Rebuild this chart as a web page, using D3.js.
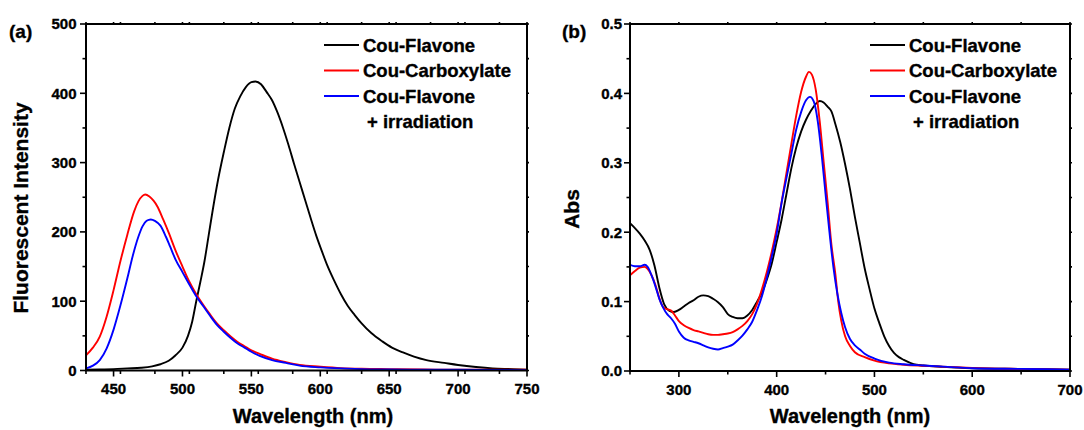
<!DOCTYPE html>
<html>
<head>
<meta charset="utf-8">
<script src="https://cdn.jsdelivr.net/npm/d3@7"></script>
<style>
  html, body { margin: 0; padding: 0; background: #fff; }
  svg { display: block; }
  text { font-family: "Liberation Sans", Arial, sans-serif; font-weight: bold; fill: #000; stroke: #000; stroke-width: 0.35px; }
</style>
</head>
<body>
<svg id="chart" width="1084" height="430"></svg>
<script>
// ---- Panel (a): fluorescence emission ----
const flWlFlavone = [430,440,450,460,470,478,484,490,495,500,504,507,510,513,516,519,522,526,530,534,538,542,546,550,553,557,561,565,569,573,577,581,585,589,593,597,601,605,610,615,620,625,630,637,645,652,660,668,677,690,700,713,725,740,750];
const flFlavone = [1,1.5,2,3,4,6,9,14,22,33,50,70,100,128,158,195,232,277,315,350,378,396,409,416,417,413,402,390,372,350,325,298,272,246,220,195,173,152,130,110,93,80,68,54,42,33,26,20,15,11,8,5,3,2,1];

const flWlCarboxylate = [430,435,440,445,450,455,460,465,468,471,473,476,479,482,486,490,495,500,505,510,515,520,525,530,535,540,545,550,556,565,575,585,600,615,630,650,675,700,750];
const flCarboxylate = [22,33,49,78,116,158,196,230,244,252,254,251,245,236,218,199,173,150,128,110,95,81,68,58,49,41,35,29,24,17,12,8,5.5,3.5,2.5,2,1.5,1,1];

const flWlIrradiated = [430,435,440,445,450,455,460,464,468,471,474,477,480,484,488,491,495,500,505,510,515,520,525,530,535,540,545,550,556,565,575,585,600,615,630,650,700,750];
const flIrradiated = [3,7,15,32,59,94,133,166,193,208,216,218,216,209,193,179,160,142,124,107,93,79,66,56,47,39,33,27,21,15,11,7,4.5,3,2,1.5,1,0.5];

const flXTicks = [450,500,550,600,650,700,750];
const flYTicks = [0,100,200,300,400,500];

// ---- Panel (b): absorption ----
const absWlFlavone = [250,255,260,265,270,275,280,285,290,295,300,305,310,315,320,325,330,335,340,345,350,355,360,365,370,375,380,385,390,395,400,405,410,415,420,425,430,435,440,444,448,452,456,460,465,470,475,480,485,490,495,500,505,510,515,520,525,530,540,550,570,600,650,700];
const absFlavone = [0.213,0.206,0.198,0.188,0.175,0.152,0.120,0.096,0.087,0.085,0.088,0.093,0.098,0.102,0.107,0.109,0.108,0.104,0.099,0.092,0.082,0.078,0.076,0.076,0.080,0.088,0.100,0.113,0.132,0.155,0.186,0.218,0.255,0.292,0.322,0.345,0.362,0.375,0.385,0.389,0.387,0.381,0.374,0.356,0.330,0.298,0.262,0.222,0.185,0.148,0.118,0.090,0.069,0.050,0.036,0.026,0.020,0.016,0.010,0.008,0.006,0.004,0.003,0.002];

const absWlCarboxylate = [250,255,260,265,268,272,276,280,284,288,292,296,300,305,310,315,320,325,330,335,340,345,350,355,360,365,370,375,380,385,390,395,400,405,410,415,420,425,430,433,436,440,444,448,452,456,460,463,466,470,475,480,490,500,515,530,550,575,600,650,700];
const absCarboxylate = [0.138,0.144,0.149,0.150,0.147,0.138,0.124,0.105,0.092,0.089,0.087,0.080,0.072,0.066,0.062,0.059,0.057,0.055,0.053,0.052,0.052,0.053,0.054,0.056,0.060,0.065,0.072,0.082,0.097,0.118,0.143,0.172,0.205,0.243,0.285,0.327,0.368,0.402,0.424,0.431,0.427,0.405,0.360,0.302,0.245,0.182,0.140,0.100,0.073,0.050,0.036,0.027,0.020,0.015,0.011,0.009,0.0075,0.006,0.0045,0.003,0.002];

const absWlIrradiated = [250,255,260,265,268,272,276,280,284,288,292,296,300,305,310,315,320,325,330,335,340,345,350,355,360,365,370,375,380,385,390,395,400,405,410,415,420,425,430,434,438,442,446,450,454,458,462,466,470,475,480,485,490,500,515,530,550,575,600,650,700];
const absIrradiated = [0.153,0.151,0.151,0.153,0.150,0.138,0.122,0.104,0.091,0.082,0.076,0.068,0.057,0.048,0.044,0.042,0.040,0.037,0.034,0.032,0.031,0.033,0.035,0.038,0.044,0.051,0.060,0.071,0.088,0.108,0.135,0.165,0.198,0.242,0.278,0.313,0.348,0.373,0.390,0.395,0.388,0.360,0.312,0.255,0.200,0.150,0.112,0.084,0.063,0.046,0.037,0.031,0.025,0.018,0.012,0.0097,0.008,0.006,0.004,0.003,0.002];

const absXTicks = [300,400,500,600,700];
const absYTicks = [0.0,0.1,0.2,0.3,0.4,0.5];

const legendLabels = ["Cou-Flavone", "Cou-Carboxylate", "Cou-Flavone"];
const legendSecondLine = "+ irradiation";
const seriesColors = ["#000000", "#ff0000", "#0000ff"];

const svg = d3.select("#chart");

function zip(xs, ys) { return xs.map((x, i) => [x, ys[i]]); }

function drawPanel(cfg) {
  const g = svg.append("g");
  const x = d3.scaleLinear().domain(cfg.xDomain).range([cfg.left, cfg.right]);
  const y = d3.scaleLinear().domain(cfg.yDomain).range([cfg.bottom, cfg.top]);

  // minor ticks sit halfway between the labelled ones
  const xMinor = d3.range(cfg.xDomain[0], cfg.xDomain[1] + 0.001, cfg.xMinorStep).filter(v => !cfg.xTicks.some(t => Math.abs(t - v) < 1e-6));
  const yMinor = d3.range(cfg.yDomain[0], cfg.yDomain[1] + 1e-9, cfg.yMinorStep).filter(v => !cfg.yTicks.some(t => Math.abs(t - v) < 1e-6));

  const tickG = g.append("g").attr("stroke", "#000").attr("stroke-width", 1.6);
  cfg.xTicks.forEach(v => tickG.append("line").attr("x1", x(v)).attr("x2", x(v)).attr("y1", cfg.bottom).attr("y2", cfg.bottom + 6));
  xMinor.forEach(v => tickG.append("line").attr("x1", x(v)).attr("x2", x(v)).attr("y1", cfg.bottom).attr("y2", cfg.bottom + 3.5));
  cfg.xTicks.concat(xMinor).forEach(v => tickG.append("line").attr("x1", x(v)).attr("x2", x(v)).attr("y1", cfg.top).attr("y2", cfg.top - 2));
  cfg.yTicks.forEach(v => tickG.append("line").attr("y1", y(v)).attr("y2", y(v)).attr("x1", cfg.left).attr("x2", cfg.left - 6));
  yMinor.forEach(v => tickG.append("line").attr("y1", y(v)).attr("y2", y(v)).attr("x1", cfg.left).attr("x2", cfg.left - 3.5));
  cfg.yTicks.concat(yMinor).forEach(v => tickG.append("line").attr("y1", y(v)).attr("y2", y(v)).attr("x1", cfg.right).attr("x2", cfg.right + 2));

  // tick labels
  g.append("g").selectAll("text").data(cfg.xTicks).join("text")
    .attr("x", d => x(d)).attr("y", cfg.bottom + 23.5)
    .attr("text-anchor", "middle").attr("font-size", 15)
    .text(d => cfg.xFormat(d));
  g.append("g").selectAll("text").data(cfg.yTicks).join("text")
    .attr("x", cfg.left - cfg.yLabelGap).attr("y", d => y(d) + 5.3)
    .attr("text-anchor", "end").attr("font-size", 15)
    .text(d => cfg.yFormat(d));

  // curves
  const line = d3.line().x(d => x(d[0])).y(d => y(d[1])).curve(d3.curveMonotoneX);
  const clipId = "clip-" + cfg.id;
  svg.append("clipPath").attr("id", clipId).append("rect")
    .attr("x", cfg.left).attr("y", cfg.top).attr("width", cfg.right - cfg.left).attr("height", cfg.bottom - cfg.top + 1);
  const curveG = g.append("g").attr("clip-path", `url(#${clipId})`);
  cfg.series.forEach((s, i) => {
    curveG.append("path").datum(zip(s.wl, s.val))
      .attr("fill", "none").attr("stroke", seriesColors[i]).attr("stroke-width", 1.9)
      .attr("stroke-linejoin", "round").attr("d", line);
  });

  // frame
  g.append("rect").attr("x", cfg.left).attr("y", cfg.top)
    .attr("width", cfg.right - cfg.left).attr("height", cfg.bottom - cfg.top)
    .attr("fill", "none").attr("stroke", "#000").attr("stroke-width", 2);

  // axis titles
  g.append("text").attr("x", cfg.xTitleX).attr("y", 423)
    .attr("text-anchor", "middle").attr("font-size", 20).text("Wavelength (nm)");
  g.append("text").attr("transform", `translate(${cfg.yTitleX},${cfg.yTitleY}) rotate(-90)`)
    .attr("text-anchor", "middle").attr("font-size", 21).text(cfg.yTitle);

  // panel letter
  g.append("text").attr("x", cfg.letterX).attr("y", 38).attr("font-size", 19).text(cfg.letter);

  // legend
  const lg = g.append("g");
  const rows = [cfg.legendY, cfg.legendY + 25.5, cfg.legendY + 51];
  legendLabels.forEach((lab, i) => {
    lg.append("line").attr("x1", cfg.legendX).attr("x2", cfg.legendX + 35)
      .attr("y1", rows[i]).attr("y2", rows[i])
      .attr("stroke", seriesColors[i]).attr("stroke-width", 2);
    lg.append("text").attr("x", cfg.legendX + 39).attr("y", rows[i] + 6.6)
      .attr("font-size", 18.5).text(lab);
  });
  lg.append("text").attr("x", cfg.legendX + 43).attr("y", rows[2] + 25.5 + 6.6)
    .attr("font-size", 18.5).text(legendSecondLine);
}

drawPanel({
  id: "a", letter: "(a)", letterX: 9,
  left: 86, right: 527, top: 24, bottom: 370.5,
  xDomain: [430, 750], yDomain: [0, 500],
  xTicks: flXTicks, yTicks: flYTicks, xMinorStep: 25, yMinorStep: 50,
  xFormat: d3.format("d"), yFormat: d3.format("d"), yLabelGap: 9.5,
  xTitleX: 313, yTitle: "Fluorescent Intensity", yTitleX: 28, yTitleY: 208,
  legendX: 324, legendY: 45,
  series: [
    { wl: flWlFlavone, val: flFlavone },
    { wl: flWlCarboxylate, val: flCarboxylate },
    { wl: flWlIrradiated, val: flIrradiated }
  ]
});

drawPanel({
  id: "b", letter: "(b)", letterX: 562,
  left: 630, right: 1070, top: 24, bottom: 371,
  xDomain: [250, 700], yDomain: [0, 0.5],
  xTicks: absXTicks, yTicks: absYTicks, xMinorStep: 50, yMinorStep: 0.05,
  xFormat: d3.format("d"), yFormat: d3.format(".1f"), yLabelGap: 8,
  xTitleX: 850, yTitle: "Abs", yTitleX: 579, yTitleY: 209,
  legendX: 870, legendY: 45,
  series: [
    { wl: absWlFlavone, val: absFlavone },
    { wl: absWlCarboxylate, val: absCarboxylate },
    { wl: absWlIrradiated, val: absIrradiated }
  ]
});
</script>
</body>
</html>
